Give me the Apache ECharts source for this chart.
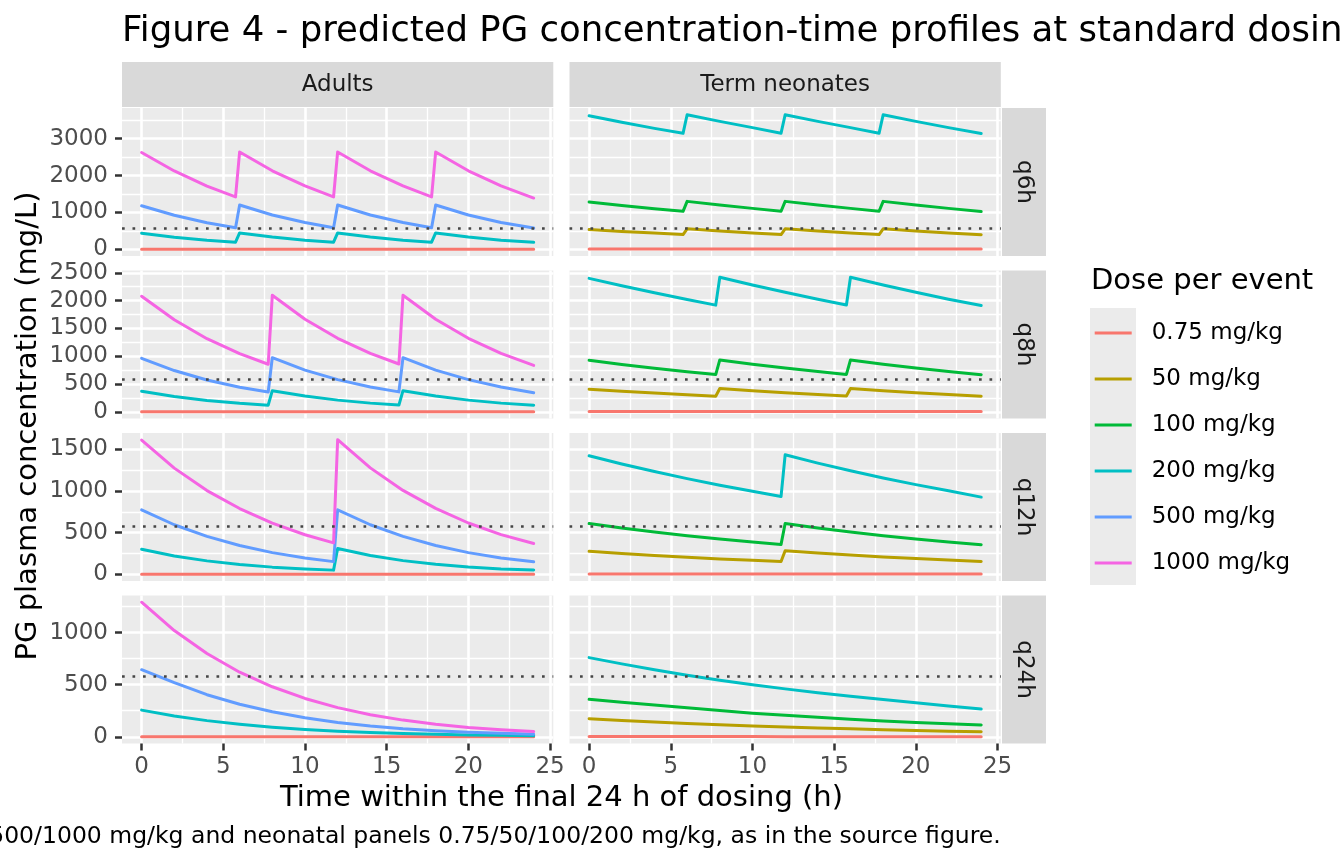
<!DOCTYPE html>
<html>
<head>
<meta charset="utf-8">
<title>Figure 4 - predicted PG concentration-time profiles</title>
<script src="https://cdn.jsdelivr.net/npm/echarts@6/dist/echarts.min.js"></script>
<style>
  html, body { margin: 0; padding: 0; background: #ffffff; }
  #chart { width: 1344px; height: 864px; }
</style>
</head>
<body>
<div id="chart"></div>
<script>
// categories
var doseLabels = ['0.75 mg/kg', '50 mg/kg', '100 mg/kg', '200 mg/kg', '500 mg/kg', '1000 mg/kg'];
var groupLabels = ['Adults', 'Term neonates'];
var regimenLabels = ['q6h', 'q8h', 'q12h', 'q24h'];
var threshold = 580;

// tick labels
var xTicks = [0, 5, 10, 15, 20, 25];
var xMinorTicks = [2.5, 7.5, 12.5, 17.5, 22.5];
var yTicksQ6 = [0, 1000, 2000, 3000];
var yMinorQ6 = [500, 1500, 2500, 3500];
var yTicksQ8 = [0, 500, 1000, 1500, 2000, 2500];
var yMinorQ8 = [250, 750, 1250, 1750, 2250];
var yTicksQ12 = [0, 500, 1000, 1500];
var yMinorQ12 = [250, 750, 1250];
var yTicksQ24 = [0, 500, 1000];
var yMinorQ24 = [250, 750, 1250];

// time grids (h)
var tQ6 = [0, 2, 4, 5.75, 6, 8, 10, 11.75, 12, 14, 16, 17.75, 18, 20, 22, 24];
var tQ8 = [0, 2, 4, 6, 7.75, 8, 10, 12, 14, 15.75, 16, 18, 20, 22, 24];
var tQ12 = [0, 2, 4, 6, 8, 10, 11.75, 12, 14, 16, 18, 20, 22, 24];
var tQ24 = [0, 2, 4, 6, 8, 10, 12, 14, 16, 18, 20, 22, 24];

// concentrations (mg/L), adults
var adQ6_075 = [1.6, 1.3, 1.0, 0.8, 1.8, 1.4, 1.1, 0.9, 1.8, 1.4, 1.1, 0.9, 1.8, 1.4, 1.1, 0.8];
var adQ6_200 = [435, 327, 245, 192, 444, 332, 248, 192, 444, 332, 248, 192, 444, 332, 248, 188];
var adQ6_500 = [1180, 925, 722, 585, 1200, 930, 726, 585, 1200, 930, 726, 585, 1200, 930, 726, 578];
var adQ6_1000 = [2625, 2125, 1715, 1420, 2640, 2130, 1720, 1420, 2640, 2130, 1720, 1420, 2640, 2130, 1720, 1390];

var adQ8_075 = [1.4, 1.1, 0.8, 0.6, 0.5, 1.5, 1.1, 0.8, 0.6, 0.5, 1.5, 1.1, 0.8, 0.6, 0.5];
var adQ8_200 = [368, 275, 205, 153, 119, 380, 283, 210, 156, 121, 380, 283, 210, 156, 118];
var adQ8_500 = [962, 742, 572, 441, 356, 974, 750, 578, 445, 358, 974, 750, 578, 445, 344];
var adQ8_1000 = [2078, 1654, 1315, 1046, 855, 2096, 1665, 1322, 1050, 860, 2096, 1665, 1322, 1050, 835];

var adQ12_075 = [1.1, 0.8, 0.6, 0.4, 0.3, 0.2, 0.2, 1.1, 0.8, 0.6, 0.4, 0.3, 0.2, 0.2];
var adQ12_200 = [301, 220, 161, 118, 86, 63, 50, 309, 225, 164, 120, 87, 64, 52];
var adQ12_500 = [774, 595, 455, 345, 260, 196, 152, 774, 595, 455, 345, 260, 196, 150];
var adQ12_1000 = [1612, 1275, 1005, 790, 615, 475, 377, 1616, 1278, 1007, 792, 616, 476, 369];

var adQ24_075 = [0.8, 0.6, 0.5, 0.4, 0.3, 0.2, 0.2, 0.1, 0.1, 0.1, 0.1, 0.0, 0.0];
var adQ24_200 = [256, 200, 155, 120, 92, 70, 54, 41, 31, 24, 18, 14, 11];
var adQ24_500 = [644, 520, 404, 312, 240, 183, 138, 104, 78, 59, 44, 33, 25];
var adQ24_1000 = [1292, 1020, 800, 620, 480, 368, 280, 212, 160, 120, 90, 67, 50];

// concentrations (mg/L), term neonates
var neQ6_075 = [8.0, 7.5, 7.0, 6.5, 8.3, 7.7, 7.1, 6.6, 8.3, 7.7, 7.1, 6.6, 8.3, 7.7, 7.1, 6.5];
var neQ6_50 = [538, 485, 440, 400, 555, 495, 442, 400, 555, 495, 442, 400, 555, 495, 442, 396];
var neQ6_100 = [1285, 1190, 1100, 1030, 1300, 1200, 1110, 1032, 1300, 1200, 1110, 1032, 1300, 1200, 1110, 1025];
var neQ6_200 = [3620, 3445, 3280, 3145, 3650, 3470, 3300, 3150, 3650, 3470, 3300, 3150, 3650, 3470, 3300, 3140];

var neQ8_075 = [5.5, 5.1, 4.6, 4.2, 3.9, 5.7, 5.2, 4.7, 4.3, 4.0, 5.7, 5.2, 4.7, 4.3, 3.9];
var neQ8_50 = [407, 370, 337, 306, 281, 419, 379, 342, 310, 283, 419, 379, 342, 310, 281];
var neQ8_100 = [927, 852, 784, 721, 670, 933, 857, 788, 725, 672, 933, 857, 788, 725, 668];
var neQ8_200 = [2400, 2268, 2140, 2020, 1918, 2420, 2280, 2150, 2025, 1920, 2420, 2280, 2150, 2025, 1912];

var neQ12_075 = [4.1, 3.7, 3.4, 3.1, 2.8, 2.5, 2.3, 4.2, 3.8, 3.4, 3.1, 2.8, 2.5, 2.3];
var neQ12_50 = [276, 250, 226, 205, 185, 168, 153, 282, 255, 231, 209, 189, 171, 153];
var neQ12_100 = [609, 557, 508, 464, 424, 388, 359, 609, 557, 508, 464, 424, 388, 355];
var neQ12_200 = [1423, 1325, 1234, 1149, 1070, 997, 935, 1435, 1335, 1243, 1157, 1077, 1003, 927];

var neQ24_075 = [2.6, 2.4, 2.1, 1.9, 1.7, 1.5, 1.4, 1.2, 1.1, 1.0, 0.9, 0.8, 0.7];
var neQ24_50 = [174, 157, 142, 128, 115, 103, 93, 84, 76, 68, 61, 54, 48];
var neQ24_100 = [360, 332, 305, 278, 252, 227, 206, 187, 169, 152, 137, 124, 113];
var neQ24_200 = [760, 700, 643, 590, 543, 500, 460, 423, 389, 357, 327, 296, 266];

// styling / layout
var FONT = 'DejaVu Sans';
var SMALL = 23;
var doseColors = ['#F8766D', '#B79F00', '#00BA38', '#00BFC4', '#619CFF', '#F564E3'];
var panelLeft = [122, 569.5];
var panelWidth = 431.3;
var panelTop = [108, 270.5, 433, 595.5];
var panelHeight = 148;

var rowTicks = [yTicksQ6, yTicksQ8, yTicksQ12, yTicksQ24];
var rowMinor = [yMinorQ6, yMinorQ8, yMinorQ12, yMinorQ24];

var panels = [
    { col: 0, row: 0, t: tQ6, lines: [[0, adQ6_075], [3, adQ6_200], [4, adQ6_500], [5, adQ6_1000]] },
    { col: 1, row: 0, t: tQ6, lines: [[0, neQ6_075], [1, neQ6_50], [2, neQ6_100], [3, neQ6_200]] },
    { col: 0, row: 1, t: tQ8, lines: [[0, adQ8_075], [3, adQ8_200], [4, adQ8_500], [5, adQ8_1000]] },
    { col: 1, row: 1, t: tQ8, lines: [[0, neQ8_075], [1, neQ8_50], [2, neQ8_100], [3, neQ8_200]] },
    { col: 0, row: 2, t: tQ12, lines: [[0, adQ12_075], [3, adQ12_200], [4, adQ12_500], [5, adQ12_1000]] },
    { col: 1, row: 2, t: tQ12, lines: [[0, neQ12_075], [1, neQ12_50], [2, neQ12_100], [3, neQ12_200]] },
    { col: 0, row: 3, t: tQ24, lines: [[0, adQ24_075], [3, adQ24_200], [4, adQ24_500], [5, adQ24_1000]] },
    { col: 1, row: 3, t: tQ24, lines: [[0, neQ24_075], [1, neQ24_50], [2, neQ24_100], [3, neQ24_200]] }
];

function expand(lo, hi) {
    var d = (hi - lo) * 0.05;
    return [lo - d, hi + d];
}

// shared x range, free y range per row (5% expansion like ggplot)
var allT = tQ6.concat(tQ8, tQ12, tQ24);
var xRange = expand(Math.min.apply(null, allT), Math.max.apply(null, allT));
var yRanges = regimenLabels.map(function (r, row) {
    var vals = [threshold];
    panels.forEach(function (p) {
        if (p.row !== row) return;
        p.lines.forEach(function (l) { vals = vals.concat(l[1]); });
    });
    return expand(Math.min.apply(null, vals), Math.max.apply(null, vals));
});

function plain(v) { return String(v); }

var grids = [], xAxes = [], yAxes = [], series = [];

panels.forEach(function (p, g) {
    grids.push({
        left: panelLeft[p.col], top: panelTop[p.row],
        width: panelWidth, height: panelHeight,
        show: true, backgroundColor: '#EBEBEB', borderWidth: 0
    });

    var bottom = p.row === 3;
    var left = p.col === 0;

    [false, true].forEach(function (minor) {
        xAxes.push({
            type: 'value', gridIndex: g, min: xRange[0], max: xRange[1],
            axisLine: { show: false, onZero: false },
            axisTick: {
                show: bottom && !minor, length: 7,
                lineStyle: { color: '#333333', width: 2.5 },
                customValues: minor ? xMinorTicks : xTicks
            },
            axisLabel: {
                show: bottom && !minor, customValues: xTicks, margin: 12, formatter: plain,
                color: '#4D4D4D', fontSize: SMALL, fontFamily: FONT
            },
            splitLine: { show: true, lineStyle: { color: '#FFFFFF', width: minor ? 1.3 : 2.6 } }
        });
        yAxes.push({
            type: 'value', gridIndex: g, min: yRanges[p.row][0], max: yRanges[p.row][1],
            position: 'left',
            axisLine: { show: false, onZero: false },
            axisTick: {
                show: left && !minor, length: 7,
                lineStyle: { color: '#333333', width: 2.5 },
                customValues: minor ? rowMinor[p.row] : rowTicks[p.row]
            },
            axisLabel: {
                show: left && !minor, customValues: rowTicks[p.row], margin: 14, formatter: plain,
                color: '#4D4D4D', fontSize: SMALL, fontFamily: FONT
            },
            splitLine: { show: true, lineStyle: { color: '#FFFFFF', width: minor ? 1.3 : 2.6 } }
        });
    });

    p.lines.forEach(function (l, k) {
        var d = l[0], vals = l[1];
        var s = {
            name: doseLabels[d], type: 'line',
            xAxisIndex: 2 * g, yAxisIndex: 2 * g,
            data: p.t.map(function (t, i) { return [t, vals[i]]; }),
            showSymbol: false, symbol: 'none', smooth: false, silent: true,
            lineStyle: { color: doseColors[d], width: 3, cap: 'round', join: 'round' },
            itemStyle: { color: doseColors[d] },
            emphasis: { disabled: true }
        };
        if (k === p.lines.length - 1) {
            s.markLine = {
                silent: true, symbol: ['none', 'none'], label: { show: false },
                emphasis: { disabled: true },
                lineStyle: { color: '#454545', type: [2.7, 7.8], width: 2.7 },
                data: [{ yAxis: threshold }]
            };
        }
        series.push(s);
    });
});

// strips, titles, caption, legend title
var graphics = [];
groupLabels.forEach(function (name, c) {
    graphics.push({ type: 'rect', shape: { x: panelLeft[c], y: 62, width: panelWidth, height: 45 }, style: { fill: '#D9D9D9' } });
    graphics.push({ type: 'text', x: panelLeft[c] + panelWidth / 2, y: 85,
        style: { text: name, font: SMALL + 'px ' + FONT, fill: '#1A1A1A', align: 'center', verticalAlign: 'middle' } });
});
regimenLabels.forEach(function (name, r) {
    graphics.push({ type: 'rect', shape: { x: 1002, y: panelTop[r], width: 44, height: panelHeight }, style: { fill: '#D9D9D9' } });
    graphics.push({ type: 'text', x: 1024, y: panelTop[r] + panelHeight / 2, rotation: -Math.PI / 2,
        style: { text: name, font: SMALL + 'px ' + FONT, fill: '#1A1A1A', align: 'center', verticalAlign: 'middle' } });
});
graphics.push({ type: 'text', x: 122, y: 32,
    style: { text: 'Figure 4 - predicted PG concentration-time profiles at standard dosing', font: '35.5px ' + FONT, fill: '#000000', align: 'left', verticalAlign: 'middle' } });
graphics.push({ type: 'text', x: 28, y: 426, rotation: Math.PI / 2,
    style: { text: 'PG plasma concentration (mg/L)', font: '29px ' + FONT, fill: '#000000', align: 'center', verticalAlign: 'middle' } });
graphics.push({ type: 'text', x: 561.5, y: 798,
    style: { text: 'Time within the final 24 h of dosing (h)', font: '29px ' + FONT, fill: '#000000', align: 'center', verticalAlign: 'middle' } });
graphics.push({ type: 'text', x: 1000.8, y: 837,
    style: { text: 'Adult panels show 0.75/200/500/1000 mg/kg and neonatal panels 0.75/50/100/200 mg/kg, as in the source figure.', font: '23.5px ' + FONT, fill: '#000000', align: 'right', verticalAlign: 'middle' } });
graphics.push({ type: 'text', x: 1091, y: 281,
    style: { text: 'Dose per event', font: '29px ' + FONT, fill: '#000000', align: 'left', verticalAlign: 'middle' } });
graphics.push({ type: 'rect', shape: { x: 1090, y: 308, width: 46, height: 277 }, style: { fill: '#EBEBEB' } });

var chart = echarts.init(document.getElementById('chart'), null, { renderer: 'canvas' });
chart.setOption({
    animation: false,
    backgroundColor: '#FFFFFF',
    textStyle: { fontFamily: FONT },
    grid: grids,
    xAxis: xAxes,
    yAxis: yAxes,
    series: series,
    legend: {
        data: doseLabels, orient: 'vertical', left: 1094.7, top: 310, padding: 0,
        itemWidth: 37, itemHeight: 3, itemGap: 0, icon: 'rect', selectedMode: false,
        textStyle: { fontSize: SMALL, color: '#000000', fontFamily: FONT, lineHeight: 46, padding: [0, 0, 0, 15] },
        z: 5
    },
    graphic: { elements: graphics }
});
</script>
</body>
</html>
